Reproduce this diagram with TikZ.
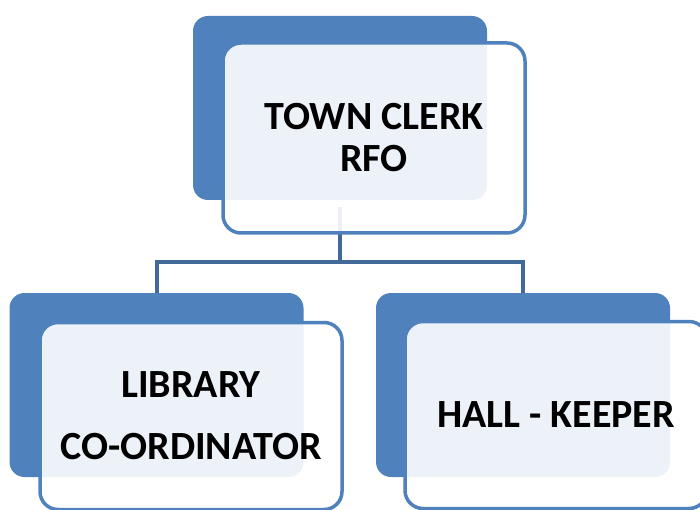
\documentclass[tikz,border=0pt]{standalone}
\usepackage{fontspec}
\setmainfont{Carlito}
\definecolor{backblue}{HTML}{4F81BD}
\definecolor{linkblue}{HTML}{41699A}
\begin{document}
\begin{tikzpicture}[x=1pt,y=-1pt,
  backbox/.style={draw=none,fill=backblue,rounded corners=15pt,minimum width=294pt,minimum height=184pt,inner sep=0pt},
  frontbox/.style={draw=backblue,line width=3.5pt,fill=white,fill opacity=0.9,text opacity=1,rounded corners=18pt,minimum width=302pt,minimum height=187pt,inner sep=0pt,align=center,font=\bfseries\fontsize{40}{42}\selectfont},
  link/.style={draw=linkblue,line width=4pt}]
\useasboundingbox (0,0) rectangle (700,510);
\node[backbox] (tcback) at (340,108) {};
\node[backbox] (libback) at (156.5,385) {};
\node[backbox] (hallback) at (523,385) {};
\coordinate (junc) at (340,262);
\draw[link,shorten <=7pt] (tcback.south) -- (junc);
\draw[link] (junc) -| (libback.north);
\draw[link] (junc) -| (hallback.north);
\node[frontbox,minimum height=190pt] (tc) at (374,138) {TOWN CLERK\\RFO};
\node[frontbox] (lib) at (191,416) {LIBRARY\\[20pt]CO-ORDINATOR};
\node[frontbox] (hall) at (556,415) {HALL - KEEPER};
\end{tikzpicture}
\end{document}
